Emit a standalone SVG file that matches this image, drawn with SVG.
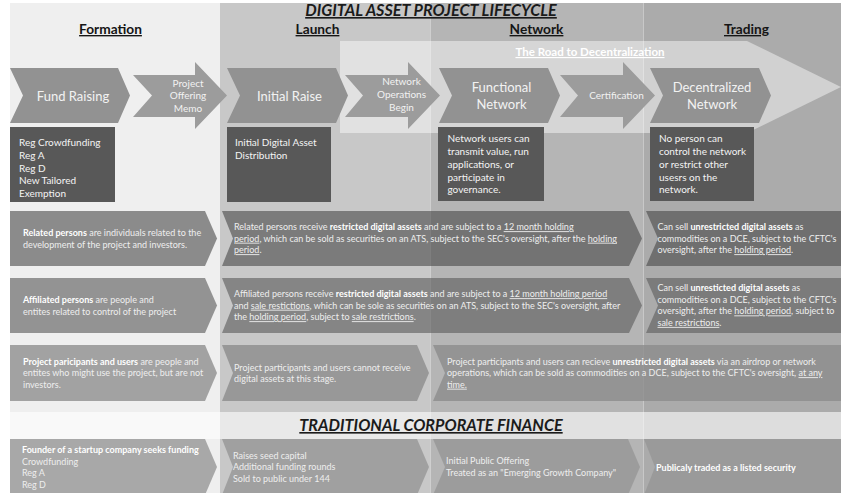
<svg xmlns="http://www.w3.org/2000/svg" width="841" height="493" viewBox="0 0 841 493">
  <style>
    text { font-family: Lato, "Liberation Sans", sans-serif; }
    .title { font-size: 16.2px; font-weight: bold; font-style: italic; text-decoration: underline; fill: #1b1b1b; }
    .colhead { font-size: 13.7px; font-weight: bold; text-decoration: underline; fill: #151515; }
    .chev { fill: #929292; }
    .step { fill: #9c9c9c; }
    .box { fill: #585858; }
    .big { font-size: 13px; fill: #f2f2f2; }
    .mid { font-size: 10px; fill: #f2f2f2; }
    .boxt { font-size: 10px; fill: #f4f4f4; }
    .rt { font-size: 9px; fill: #eeeeee; }
    .b { font-weight: bold; fill: #ffffff; }
    .u { text-decoration: underline; }
    .r1 { fill: #464646; fill-opacity: 0.59; }
    .r2 { fill: #5f5f5f; fill-opacity: 0.64; }
    .r3 { fill: #8a8a8a; fill-opacity: 0.77; }
    .r4 { fill: #969696; fill-opacity: 0.8; }
  </style>

  <!-- page and phase columns -->
  <rect width="841" height="493" fill="#ffffff"/>
  <g id="columns">
    <rect x="10" y="3" width="210" height="490" fill="#efefef"/>
    <rect x="220" y="3" width="210" height="490" fill="#c8c8c8"/>
    <rect x="430" y="3" width="213" height="490" fill="#b5b5b5"/>
    <rect x="643" y="3" width="198" height="490" fill="#ababab"/>
  </g>

  <!-- road to decentralization band -->
  <g id="road">
    <polygon points="340,41 747,41 841,87 747,133 340,133" fill="#ffffff" fill-opacity="0.45"/>
    <text x="590" y="56" text-anchor="middle" font-size="11.5" font-weight="bold" fill="#ffffff" text-decoration="underline">The Road to Decentralization</text>
  </g>

  <!-- traditional finance band -->
  <rect x="0" y="412" width="841" height="27" fill="#ffffff" fill-opacity="0.6"/>

  <!-- faint column dividers -->
  <g stroke="#ffffff" stroke-opacity="0.35" stroke-width="1">
    <line x1="430.5" y1="3" x2="430.5" y2="493"/>
    <line x1="643.5" y1="3" x2="643.5" y2="493"/>
  </g>

  <!-- headings -->
  <text class="title" x="431" y="16" text-anchor="middle">DIGITAL ASSET PROJECT LIFECYCLE</text>
  <text class="colhead" x="110.5" y="34" text-anchor="middle">Formation</text>
  <text class="colhead" x="317.5" y="34" text-anchor="middle">Launch</text>
  <text class="colhead" x="536.5" y="34" text-anchor="middle">Network</text>
  <text class="colhead" x="746.5" y="34" text-anchor="middle">Trading</text>

  <!-- lifecycle stages -->
  <g id="fund-raising">
    <polygon class="chev" points="10,68 118,68 130,95.5 118,123 10,123 23,95.5"/>
    <text class="big" x="73" y="100.5" text-anchor="middle">Fund Raising</text>
    <rect class="box" x="10" y="127" width="105" height="75"/>
    <text class="boxt" x="19" y="146.3">Reg Crowdfunding</text>
    <text class="boxt" x="19" y="159">Reg A</text>
    <text class="boxt" x="19" y="171.6">Reg D</text>
    <text class="boxt" x="19" y="184.3">New Tailored</text>
    <text class="boxt" x="19" y="196.9">Exemption</text>
  </g>

  <g id="initial-raise">
    <polygon class="chev" points="227,68 336,68 348,95.5 336,123 227,123 240,95.5"/>
    <text class="big" x="289.5" y="100.5" text-anchor="middle">Initial Raise</text>
    <rect class="box" x="227" y="127" width="104" height="75"/>
    <text class="boxt" x="235" y="146.3">Initial Digital Asset</text>
    <text class="boxt" x="235" y="159">Distribution</text>
  </g>

  <g id="functional-network">
    <polygon class="chev" points="439,68 548,68 560,95.5 548,123 439,123 452,95.5"/>
    <text class="big" x="501.5" y="92" text-anchor="middle">Functional</text>
    <text class="big" x="501.5" y="108.5" text-anchor="middle">Network</text>
    <rect class="box" x="438" y="127" width="106" height="74"/>
    <text class="boxt" x="447.5" y="141.8">Network users can</text>
    <text class="boxt" x="447.5" y="154.7">transmit value, run</text>
    <text class="boxt" x="447.5" y="167.6">applications, or</text>
    <text class="boxt" x="447.5" y="180.5">participate in</text>
    <text class="boxt" x="447.5" y="193.4">governance.</text>
  </g>

  <g id="decentralized-network">
    <polygon class="chev" points="650,68 759,68 771,95.5 759,123 650,123 663,95.5"/>
    <text class="big" x="712" y="92" text-anchor="middle">Decentralized</text>
    <text class="big" x="712" y="108.5" text-anchor="middle">Network</text>
    <rect class="box" x="650" y="127" width="104" height="74"/>
    <text class="boxt" x="659" y="141.8">No person can</text>
    <text class="boxt" x="659" y="154.7">control the network</text>
    <text class="boxt" x="659" y="167.6">or restrict other</text>
    <text class="boxt" x="659" y="180.5">usesrs on the</text>
    <text class="boxt" x="659" y="193.4">network.</text>
  </g>

  <!-- transitions between stages -->
  <g id="connectors">
    <g id="project-offering-memo">
      <polygon class="step" points="133,75 195,75 195,62 227,95.5 195,129 195,117 133,117 152,95.5"/>
      <text class="mid" x="188" y="86.8" text-anchor="middle">Project</text>
      <text class="mid" x="188" y="99.3" text-anchor="middle">Offering</text>
      <text class="mid" x="188" y="112.3" text-anchor="middle">Memo</text>
    </g>
    <g id="network-operations-begin">
      <polygon class="step" points="345,75 408,75 408,62 440,95.5 408,129 408,117 345,117 363,95.5"/>
      <text class="mid" x="401.5" y="85.3" text-anchor="middle">Network</text>
      <text class="mid" x="401.5" y="97.8" text-anchor="middle">Operations</text>
      <text class="mid" x="401.5" y="110.8" text-anchor="middle">Begin</text>
    </g>
    <g id="certification">
      <polygon class="step" points="560,75 623,75 623,62 655,95.5 623,129 623,117 560,117 578,95.5"/>
      <text class="mid" x="616.5" y="98.8" text-anchor="middle">Certification</text>
    </g>
  </g>

  <!-- related persons -->
  <g id="related-persons">
    <polygon class="r1" points="10,211 205,211 217,238.5 205,266 10,266"/>
    <text class="rt" x="23" y="236"><tspan class="b">Related persons</tspan> are individuals related to the</text>
    <text class="rt" x="23" y="247.5">development of the project and investors.</text>
    <polygon class="r1" points="222,211 629,211 642,238.5 629,266 222,266 233,238.5"/>
    <text class="rt" x="234" y="230.2">Related persons receive <tspan class="b">restricted digital assets</tspan> and are subject to a <tspan class="u">12 month holding</tspan></text>
    <text class="rt" x="234" y="241.7"><tspan class="u">period</tspan>, which can be sold as securities on an ATS, subject to the SEC's oversight, after the <tspan class="u">holding</tspan></text>
    <text class="rt" x="234" y="253.2"><tspan class="u">period</tspan>.</text>
    <polygon class="r1" points="646,211 841,211 841,266 646,266 658,238.5"/>
    <text class="rt" x="657.5" y="230.2">Can sell <tspan class="b">unrestricted digital assets</tspan> as</text>
    <text class="rt" x="657.5" y="241.7">commodities on a DCE, subject to the CFTC's</text>
    <text class="rt" x="657.5" y="253.2">oversight, after the <tspan class="u">holding period</tspan>.</text>
  </g>

  <!-- affiliated persons -->
  <g id="affiliated-persons">
    <polygon class="r2" points="10,278 205,278 217,305.5 205,333 10,333"/>
    <text class="rt" x="23" y="303"><tspan class="b">Affiliated persons</tspan> are people and</text>
    <text class="rt" x="23" y="314.5">entites related to control of the project</text>
    <polygon class="r2" points="222,278 629,278 642,305.5 629,333 222,333 233,305.5"/>
    <text class="rt" x="234" y="297.2">Affiliated persons receive <tspan class="b">restricted digital assets</tspan> and are subject to a <tspan class="u">12 month holding period</tspan></text>
    <text class="rt" x="234" y="308.7">and <tspan class="u">sale restictions</tspan>, which can be sole as securities on an ATS, subject to the SEC's oversight, after</text>
    <text class="rt" x="234" y="320.2">the <tspan class="u">holding period</tspan>, subject to <tspan class="u">sale restrictions</tspan>.</text>
    <polygon class="r2" points="646,278 841,278 841,333 646,333 658,305.5"/>
    <text class="rt" x="657.5" y="291.4">Can sell <tspan class="b">unresticted digital assets</tspan> as</text>
    <text class="rt" x="657.5" y="302.9">commodities on a DCE, subject to the CFTC's</text>
    <text class="rt" x="657.5" y="314.4">oversight, after the <tspan class="u">holding period</tspan>, subject to</text>
    <text class="rt" x="657.5" y="325.9"><tspan class="u">sale restrictions</tspan>.</text>
  </g>

  <!-- project participants and users -->
  <g id="participants">
    <polygon class="r3" points="10,345 205,345 217,373 205,401 10,401"/>
    <text class="rt" x="23" y="364.7"><tspan class="b">Project paricipants and users</tspan> are people and</text>
    <text class="rt" x="23" y="376.2">entites who might use the project, but are not</text>
    <text class="rt" x="23" y="387.7">investors.</text>
    <polygon class="r3" points="222,345 417,345 429,373 417,401 222,401 233,373"/>
    <text class="rt" x="234" y="370.5">Project participants and users cannot receive</text>
    <text class="rt" x="234" y="382">digital assets at this stage.</text>
    <polygon class="r3" points="433,345 841,345 841,401 433,401 445,373"/>
    <text class="rt" x="447" y="364.7">Project participants and users can recieve <tspan class="b">unrestricted digital assets</tspan> via an airdrop or network</text>
    <text class="rt" x="447" y="376.2">operations, which can be sold as commodities on a DCE, subject to the CFTC's oversight, <tspan class="u">at any</tspan></text>
    <text class="rt" x="447" y="387.7"><tspan class="u">time.</tspan></text>
  </g>

  <!-- traditional corporate finance -->
  <text class="title" x="431" y="431" text-anchor="middle">TRADITIONAL CORPORATE FINANCE</text>
  <g id="traditional-finance">
    <polygon class="r4" points="10,439 205,439 217,467 205,495 10,495"/>
    <text class="rt" x="22" y="453.2"><tspan class="b">Founder of a startup company seeks funding</tspan></text>
    <text class="rt" x="22" y="464.7">Crowdfunding</text>
    <text class="rt" x="22" y="476.2">Reg A</text>
    <text class="rt" x="22" y="487.7">Reg D</text>
    <polygon class="r4" points="222,439 417,439 429,467 417,495 222,495 233,467"/>
    <text class="rt" x="233" y="458.7">Raises seed capital</text>
    <text class="rt" x="233" y="470.2">Additional funding rounds</text>
    <text class="rt" x="233" y="481.7">Sold to public under 144</text>
    <polygon class="r4" points="433,439 628,439 640,467 628,495 433,495 445,467"/>
    <text class="rt" x="446" y="464.4">Initial Public Offering</text>
    <text class="rt" x="446" y="475.9">Treated as an "Emerging Growth Company"</text>
    <polygon class="r4" points="644,439 841,439 841,495 644,495 655,467"/>
    <text class="rt" x="656" y="470.5"><tspan class="b">Publicaly traded as a listed security</tspan></text>
  </g>
</svg>
